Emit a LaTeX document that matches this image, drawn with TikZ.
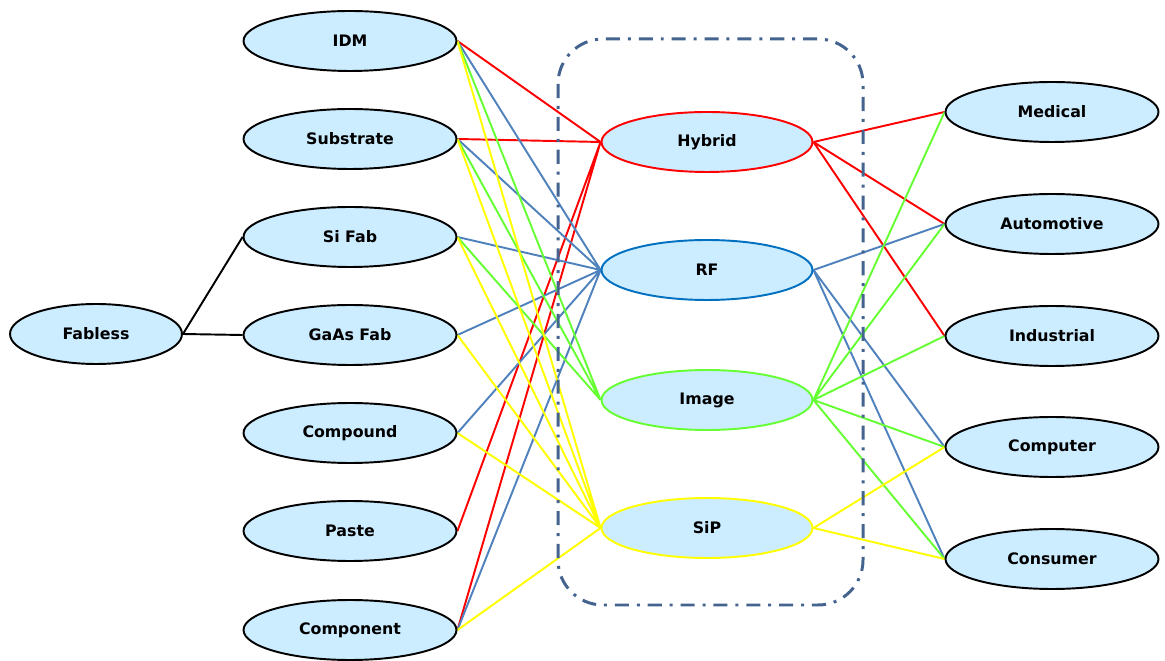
\documentclass[tikz,border=0pt]{standalone}
\usepackage{fontspec}
\setmainfont{DejaVu Sans}
\usepackage{xcolor}
\usetikzlibrary{shapes,positioning,backgrounds}

\definecolor{nodefill}{HTML}{CCECFF}
\definecolor{linkred}{HTML}{FF0000}
\definecolor{linkblue}{HTML}{4F81BD}
\definecolor{linkgreen}{HTML}{66FF33}
\definecolor{linkyellow}{HTML}{FFFF00}
\definecolor{rfblue}{HTML}{0070C0}
\definecolor{boxblue}{HTML}{44648F}

\begin{document}
\begin{tikzpicture}[x=0.02cm, y=-0.02cm,
    company/.style={ellipse, draw=black, line width=1.1pt, fill=nodefill, minimum width=4.26cm, minimum height=1.2cm, font=\fontsize{9}{11}\selectfont\bfseries},
    package/.style={company, minimum width=4.22cm},
    redlink/.style={linkred, line width=1.1pt},
    bluelink/.style={linkblue, line width=1.1pt},
    greenlink/.style={linkgreen, line width=1.1pt},
    yellowlink/.style={linkyellow, line width=1.1pt}]
    \useasboundingbox (0,0) rectangle (1165,661);

    % Supplier column
    \node[company, minimum width=3.44cm] (fabless) at (96,334) {Fabless};
    \node[company] (idm) at (350,41) {IDM};
    \node[company] (substrate) at (350,139) {Substrate};
    \node[company] (sifab) at (350,237) {Si Fab};
    \node[company] (gaasfab) at (350,335) {GaAs Fab};
    \node[company] (compound) at (350,433) {Compound};
    \node[company] (paste) at (350,531) {Paste};
    \node[company] (component) at (350,630) {Component};

    % Package types inside the dash-dot frame
    \draw[boxblue, line width=1.7pt, rounded corners=0.9cm, dash pattern=on 8pt off 4.5pt on 1.7pt off 4.5pt] (558,39) rectangle (863,605);
    \node[package, draw=linkred] (hybrid) at (707,142) {Hybrid};
    \node[package, draw=rfblue] (rf) at (707,270) {RF};
    \node[package, draw=linkgreen] (image) at (707,400) {Image};
    \node[package, draw=linkyellow] (sip) at (707,528) {SiP};

    % Markets
    \node[company] (medical) at (1052,112) {Medical};
    \node[company] (automotive) at (1052,224) {Automotive};
    \node[company] (industrial) at (1052,336) {Industrial};
    \node[company] (computer) at (1052,447) {Computer};
    \node[company] (consumer) at (1052,559) {Consumer};

    \begin{scope}[on background layer]
    % Fabless split
    \draw[line width=1.1pt] (fabless.east) -- (sifab.west);
    \draw[line width=1.1pt] (fabless.east) -- (gaasfab.west);

    % Suppliers to packages
    \draw[redlink] (idm.east) -- (hybrid.west) (substrate.east) -- (hybrid.west)
        (paste.east) -- (hybrid.west) (component.east) -- (hybrid.west);
    \draw[bluelink] (idm.east) -- (rf.west) (substrate.east) -- (rf.west) (sifab.east) -- (rf.west)
        (gaasfab.east) -- (rf.west) (compound.east) -- (rf.west) (component.east) -- (rf.west);
    \draw[greenlink] (idm.east) -- (image.west) (substrate.east) -- (image.west) (sifab.east) -- (image.west);
    \draw[yellowlink] (idm.east) -- (sip.west) (substrate.east) -- (sip.west) (sifab.east) -- (sip.west)
        (gaasfab.east) -- (sip.west) (compound.east) -- (sip.west) (component.east) -- (sip.west);

    % Packages to markets
    \draw[redlink] (hybrid.east) -- (medical.west) (hybrid.east) -- (automotive.west) (hybrid.east) -- (industrial.west);
    \draw[bluelink] (rf.east) -- (automotive.west) (rf.east) -- (computer.west) (rf.east) -- (consumer.west);
    \draw[greenlink] (image.east) -- (medical.west) (image.east) -- (automotive.west) (image.east) -- (industrial.west)
        (image.east) -- (computer.west) (image.east) -- (consumer.west);
    \draw[yellowlink] (sip.east) -- (computer.west) (sip.east) -- (consumer.west);
    \end{scope}
\end{tikzpicture}
\end{document}
